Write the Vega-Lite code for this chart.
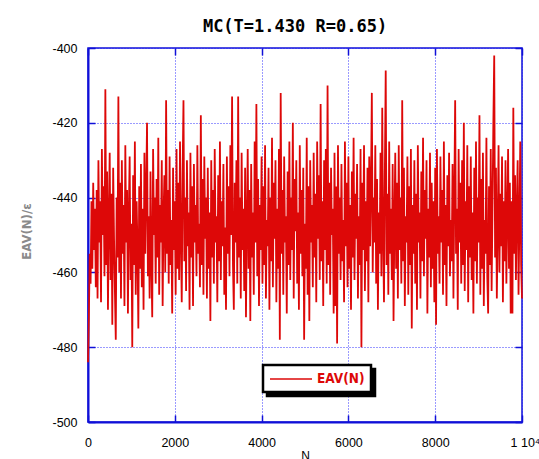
{
"$schema": "https://vega.github.io/schema/vega-lite/v6.json",
"width": 434, "height": 374,
"autosize": {"type": "none"},
"padding": {"left": 88, "top": 48, "right": 17, "bottom": 37},
"background": "white",
"title": {"text": "MC(T=1.430 R=0.65)", "font": "DejaVu Sans Mono", "fontSize": 17, "fontWeight": "bold", "color": "black", "anchor": "middle", "frame": "group", "dx": -10, "offset": 6},
"config": {"view": {"stroke": "#1010d8", "strokeWidth": 1.5}, "legend": {"strokeWidth": 2.5}},
"data": {"values": [
{"n":0,"e":-484},{"n":20,"e":-472},{"n":40,"e":-455},{"n":60,"e":-463},{"n":80,"e":-441},{"n":100,"e":-459},{"n":120,"e":-436},{"n":140,"e":-454},{"n":160,"e":-443},{"n":180,"e":-464},
{"n":200,"e":-438},{"n":220,"e":-467},{"n":240,"e":-430},{"n":260,"e":-452},{"n":280,"e":-441},{"n":300,"e":-468},{"n":320,"e":-427},{"n":340,"e":-450},{"n":360,"e":-437},{"n":380,"e":-461},
{"n":400,"e":-411},{"n":420,"e":-458},{"n":440,"e":-433},{"n":460,"e":-470},{"n":480,"e":-445},{"n":500,"e":-428},{"n":520,"e":-462},{"n":540,"e":-439},{"n":560,"e":-474},{"n":580,"e":-432},
{"n":600,"e":-451},{"n":620,"e":-465},{"n":640,"e":-478},{"n":660,"e":-440},{"n":680,"e":-456},{"n":700,"e":-413},{"n":720,"e":-460},{"n":740,"e":-436},{"n":760,"e":-467},{"n":780,"e":-430},
{"n":800,"e":-455},{"n":820,"e":-442},{"n":840,"e":-469},{"n":860,"e":-426},{"n":880,"e":-452},{"n":900,"e":-438},{"n":920,"e":-471},{"n":940,"e":-444},{"n":960,"e":-429},{"n":980,"e":-462},
{"n":1000,"e":-447},{"n":1020,"e":-480},{"n":1040,"e":-434},{"n":1060,"e":-458},{"n":1080,"e":-425},{"n":1100,"e":-466},{"n":1120,"e":-441},{"n":1140,"e":-453},{"n":1160,"e":-475},{"n":1180,"e":-437},
{"n":1200,"e":-459},{"n":1220,"e":-431},{"n":1240,"e":-464},{"n":1260,"e":-443},{"n":1280,"e":-470},{"n":1300,"e":-428},{"n":1320,"e":-455},{"n":1340,"e":-439},{"n":1360,"e":-420},{"n":1380,"e":-461},
{"n":1400,"e":-445},{"n":1420,"e":-467},{"n":1440,"e":-433},{"n":1460,"e":-457},{"n":1480,"e":-472},{"n":1500,"e":-427},{"n":1520,"e":-450},{"n":1540,"e":-440},{"n":1560,"e":-463},{"n":1580,"e":-435},
{"n":1600,"e":-456},{"n":1620,"e":-424},{"n":1640,"e":-466},{"n":1660,"e":-442},{"n":1680,"e":-452},{"n":1700,"e":-430},{"n":1720,"e":-469},{"n":1740,"e":-445},{"n":1760,"e":-434},{"n":1780,"e":-460},
{"n":1800,"e":-414},{"n":1820,"e":-455},{"n":1840,"e":-438},{"n":1860,"e":-463},{"n":1880,"e":-429},{"n":1900,"e":-458},{"n":1920,"e":-446},{"n":1940,"e":-471},{"n":1960,"e":-432},{"n":1980,"e":-454},
{"n":2000,"e":-441},{"n":2020,"e":-466},{"n":2040,"e":-427},{"n":2060,"e":-459},{"n":2080,"e":-436},{"n":2100,"e":-462},{"n":2120,"e":-425},{"n":2140,"e":-450},{"n":2160,"e":-468},{"n":2180,"e":-433},
{"n":2200,"e":-414},{"n":2220,"e":-457},{"n":2240,"e":-440},{"n":2260,"e":-465},{"n":2280,"e":-430},{"n":2300,"e":-453},{"n":2320,"e":-444},{"n":2340,"e":-470},{"n":2360,"e":-428},{"n":2380,"e":-456},
{"n":2400,"e":-437},{"n":2420,"e":-469},{"n":2440,"e":-431},{"n":2460,"e":-452},{"n":2480,"e":-442},{"n":2500,"e":-461},{"n":2520,"e":-426},{"n":2540,"e":-455},{"n":2560,"e":-447},{"n":2580,"e":-464},
{"n":2600,"e":-418},{"n":2620,"e":-458},{"n":2640,"e":-435},{"n":2660,"e":-466},{"n":2680,"e":-429},{"n":2700,"e":-451},{"n":2720,"e":-440},{"n":2740,"e":-467},{"n":2760,"e":-432},{"n":2780,"e":-459},
{"n":2800,"e":-444},{"n":2820,"e":-473},{"n":2840,"e":-430},{"n":2860,"e":-456},{"n":2880,"e":-438},{"n":2900,"e":-463},{"n":2920,"e":-427},{"n":2940,"e":-452},{"n":2960,"e":-445},{"n":2980,"e":-468},
{"n":3000,"e":-434},{"n":3020,"e":-457},{"n":3040,"e":-425},{"n":3060,"e":-462},{"n":3080,"e":-441},{"n":3100,"e":-453},{"n":3120,"e":-431},{"n":3140,"e":-466},{"n":3160,"e":-448},{"n":3180,"e":-470},
{"n":3200,"e":-429},{"n":3220,"e":-455},{"n":3240,"e":-437},{"n":3260,"e":-461},{"n":3280,"e":-426},{"n":3300,"e":-450},{"n":3320,"e":-413},{"n":3340,"e":-458},{"n":3360,"e":-470},{"n":3380,"e":-436},
{"n":3400,"e":-452},{"n":3420,"e":-430},{"n":3440,"e":-463},{"n":3460,"e":-413},{"n":3480,"e":-456},{"n":3500,"e":-440},{"n":3520,"e":-467},{"n":3540,"e":-428},{"n":3560,"e":-454},{"n":3580,"e":-443},
{"n":3600,"e":-465},{"n":3620,"e":-432},{"n":3640,"e":-472},{"n":3660,"e":-447},{"n":3680,"e":-427},{"n":3700,"e":-459},{"n":3720,"e":-438},{"n":3740,"e":-473},{"n":3760,"e":-431},{"n":3780,"e":-456},
{"n":3800,"e":-444},{"n":3820,"e":-466},{"n":3840,"e":-425},{"n":3860,"e":-452},{"n":3880,"e":-415},{"n":3900,"e":-461},{"n":3920,"e":-435},{"n":3940,"e":-469},{"n":3960,"e":-442},{"n":3980,"e":-454},
{"n":4000,"e":-429},{"n":4020,"e":-463},{"n":4040,"e":-437},{"n":4060,"e":-458},{"n":4080,"e":-426},{"n":4100,"e":-467},{"n":4120,"e":-446},{"n":4140,"e":-453},{"n":4160,"e":-432},{"n":4180,"e":-470},
{"n":4200,"e":-440},{"n":4220,"e":-457},{"n":4240,"e":-424},{"n":4260,"e":-464},{"n":4280,"e":-436},{"n":4300,"e":-451},{"n":4320,"e":-430},{"n":4340,"e":-468},{"n":4360,"e":-443},{"n":4380,"e":-459},
{"n":4400,"e":-427},{"n":4420,"e":-478},{"n":4440,"e":-412},{"n":4460,"e":-455},{"n":4480,"e":-438},{"n":4500,"e":-466},{"n":4520,"e":-429},{"n":4540,"e":-452},{"n":4560,"e":-445},{"n":4580,"e":-471},
{"n":4600,"e":-433},{"n":4620,"e":-458},{"n":4640,"e":-425},{"n":4660,"e":-462},{"n":4680,"e":-440},{"n":4700,"e":-454},{"n":4720,"e":-420},{"n":4740,"e":-467},{"n":4760,"e":-435},{"n":4780,"e":-449},
{"n":4800,"e":-430},{"n":4820,"e":-463},{"n":4840,"e":-444},{"n":4860,"e":-470},{"n":4880,"e":-426},{"n":4900,"e":-455},{"n":4920,"e":-438},{"n":4940,"e":-461},{"n":4960,"e":-432},{"n":4980,"e":-478},
{"n":5000,"e":-447},{"n":5020,"e":-459},{"n":5040,"e":-424},{"n":5060,"e":-466},{"n":5080,"e":-437},{"n":5100,"e":-473},{"n":5120,"e":-430},{"n":5140,"e":-452},{"n":5160,"e":-442},{"n":5180,"e":-464},
{"n":5200,"e":-428},{"n":5220,"e":-456},{"n":5240,"e":-439},{"n":5260,"e":-468},{"n":5280,"e":-425},{"n":5300,"e":-451},{"n":5320,"e":-434},{"n":5340,"e":-462},{"n":5360,"e":-415},{"n":5380,"e":-457},
{"n":5400,"e":-441},{"n":5420,"e":-469},{"n":5440,"e":-430},{"n":5460,"e":-454},{"n":5480,"e":-427},{"n":5500,"e":-463},{"n":5520,"e":-410},{"n":5540,"e":-458},{"n":5560,"e":-436},{"n":5580,"e":-466},
{"n":5600,"e":-432},{"n":5620,"e":-450},{"n":5640,"e":-443},{"n":5660,"e":-471},{"n":5680,"e":-428},{"n":5700,"e":-469},{"n":5720,"e":-437},{"n":5740,"e":-479},{"n":5760,"e":-426},{"n":5780,"e":-455},
{"n":5800,"e":-440},{"n":5820,"e":-462},{"n":5840,"e":-431},{"n":5860,"e":-457},{"n":5880,"e":-446},{"n":5900,"e":-468},{"n":5920,"e":-425},{"n":5940,"e":-453},{"n":5960,"e":-436},{"n":5980,"e":-464},
{"n":6000,"e":-429},{"n":6020,"e":-459},{"n":6040,"e":-442},{"n":6060,"e":-470},{"n":6080,"e":-433},{"n":6100,"e":-456},{"n":6120,"e":-424},{"n":6140,"e":-462},{"n":6160,"e":-439},{"n":6180,"e":-451},
{"n":6200,"e":-431},{"n":6220,"e":-467},{"n":6240,"e":-445},{"n":6260,"e":-458},{"n":6280,"e":-427},{"n":6300,"e":-480},{"n":6320,"e":-436},{"n":6340,"e":-454},{"n":6360,"e":-426},{"n":6380,"e":-465},
{"n":6400,"e":-441},{"n":6420,"e":-457},{"n":6440,"e":-432},{"n":6460,"e":-468},{"n":6480,"e":-429},{"n":6500,"e":-453},{"n":6520,"e":-437},{"n":6540,"e":-412},{"n":6560,"e":-460},{"n":6580,"e":-440},
{"n":6600,"e":-452},{"n":6620,"e":-426},{"n":6640,"e":-463},{"n":6660,"e":-435},{"n":6680,"e":-470},{"n":6700,"e":-444},{"n":6720,"e":-455},{"n":6740,"e":-428},{"n":6760,"e":-461},{"n":6780,"e":-416},
{"n":6800,"e":-450},{"n":6820,"e":-468},{"n":6840,"e":-433},{"n":6860,"e":-406},{"n":6880,"e":-458},{"n":6900,"e":-439},{"n":6920,"e":-466},{"n":6940,"e":-425},{"n":6960,"e":-455},{"n":6980,"e":-443},
{"n":7000,"e":-462},{"n":7020,"e":-431},{"n":7040,"e":-473},{"n":7060,"e":-447},{"n":7080,"e":-428},{"n":7100,"e":-459},{"n":7120,"e":-436},{"n":7140,"e":-467},{"n":7160,"e":-426},{"n":7180,"e":-454},
{"n":7200,"e":-440},{"n":7220,"e":-463},{"n":7240,"e":-414},{"n":7260,"e":-457},{"n":7280,"e":-432},{"n":7300,"e":-469},{"n":7320,"e":-445},{"n":7340,"e":-452},{"n":7360,"e":-429},{"n":7380,"e":-466},
{"n":7400,"e":-437},{"n":7420,"e":-458},{"n":7440,"e":-427},{"n":7460,"e":-475},{"n":7480,"e":-442},{"n":7500,"e":-455},{"n":7520,"e":-430},{"n":7540,"e":-463},{"n":7560,"e":-439},{"n":7580,"e":-470},
{"n":7600,"e":-426},{"n":7620,"e":-452},{"n":7640,"e":-444},{"n":7660,"e":-467},{"n":7680,"e":-433},{"n":7700,"e":-457},{"n":7720,"e":-424},{"n":7740,"e":-461},{"n":7760,"e":-438},{"n":7780,"e":-451},
{"n":7800,"e":-430},{"n":7820,"e":-471},{"n":7840,"e":-443},{"n":7860,"e":-456},{"n":7880,"e":-428},{"n":7900,"e":-464},{"n":7920,"e":-436},{"n":7940,"e":-459},{"n":7960,"e":-441},{"n":7980,"e":-468},
{"n":8000,"e":-432},{"n":8020,"e":-474},{"n":8040,"e":-427},{"n":8060,"e":-455},{"n":8080,"e":-445},{"n":8100,"e":-463},{"n":8120,"e":-429},{"n":8140,"e":-452},{"n":8160,"e":-438},{"n":8180,"e":-466},
{"n":8200,"e":-425},{"n":8220,"e":-458},{"n":8240,"e":-442},{"n":8260,"e":-469},{"n":8280,"e":-434},{"n":8300,"e":-453},{"n":8320,"e":-428},{"n":8340,"e":-461},{"n":8360,"e":-446},{"n":8380,"e":-457},
{"n":8400,"e":-431},{"n":8420,"e":-467},{"n":8440,"e":-439},{"n":8460,"e":-414},{"n":8480,"e":-455},{"n":8500,"e":-443},{"n":8520,"e":-470},{"n":8540,"e":-427},{"n":8560,"e":-452},{"n":8580,"e":-436},
{"n":8600,"e":-463},{"n":8620,"e":-430},{"n":8640,"e":-458},{"n":8660,"e":-420},{"n":8680,"e":-465},{"n":8700,"e":-441},{"n":8720,"e":-454},{"n":8740,"e":-426},{"n":8760,"e":-468},{"n":8780,"e":-437},
{"n":8800,"e":-456},{"n":8820,"e":-429},{"n":8840,"e":-462},{"n":8860,"e":-444},{"n":8880,"e":-471},{"n":8900,"e":-432},{"n":8920,"e":-457},{"n":8940,"e":-425},{"n":8960,"e":-463},{"n":8980,"e":-440},
{"n":9000,"e":-452},{"n":9020,"e":-418},{"n":9040,"e":-466},{"n":9060,"e":-435},{"n":9080,"e":-459},{"n":9100,"e":-428},{"n":9120,"e":-469},{"n":9140,"e":-446},{"n":9160,"e":-455},{"n":9180,"e":-424},
{"n":9200,"e":-461},{"n":9220,"e":-471},{"n":9240,"e":-437},{"n":9260,"e":-458},{"n":9280,"e":-427},{"n":9300,"e":-465},{"n":9320,"e":-443},{"n":9340,"e":-420},{"n":9360,"e":-402},{"n":9380,"e":-456},
{"n":9400,"e":-432},{"n":9420,"e":-467},{"n":9440,"e":-448},{"n":9460,"e":-426},{"n":9480,"e":-460},{"n":9500,"e":-439},{"n":9520,"e":-453},{"n":9540,"e":-429},{"n":9560,"e":-468},{"n":9580,"e":-441},
{"n":9600,"e":-457},{"n":9620,"e":-430},{"n":9640,"e":-463},{"n":9660,"e":-445},{"n":9680,"e":-427},{"n":9700,"e":-459},{"n":9720,"e":-436},{"n":9740,"e":-471},{"n":9760,"e":-441},{"n":9780,"e":-471},
{"n":9800,"e":-416},{"n":9820,"e":-455},{"n":9840,"e":-434},{"n":9860,"e":-462},{"n":9880,"e":-443},{"n":9900,"e":-430},{"n":9920,"e":-466},{"n":9940,"e":-447},{"n":9960,"e":-425},{"n":9980,"e":-458},
{"n":10000,"e":-467}
]},
"resolve": {"axis": {"x": "independent", "y": "independent"}},
"layer": [
{
"mark": {"type": "line", "strokeWidth": 1.8, "interpolate": "linear"},
"encoding": {
  "x": {"field": "n", "type": "quantitative",
    "scale": {"domain": [0, 10000], "nice": false},
    "axis": {"values": [0, 2000, 4000, 6000, 8000, 10000],
      "labelExpr": "datum.value == 10000 ? '1 10⁴' : '' + datum.value",
      "labelAlign": {"condition": {"test": "datum.value == 10000", "value": "left"}, "value": "center"},
      "labelOffset": {"condition": {"test": "datum.value == 10000", "value": -12}, "value": 0},
      "labelFlush": false, "labelFont": "Liberation Sans", "labelFontSize": 12.5, "labelColor": "black",
      "labelPadding": 21, "labelBaseline": "top",
      "tickSize": -7, "tickColor": "#1010d8", "tickWidth": 1.5,
      "domainColor": "#1010d8", "domainWidth": 2,
      "grid": true, "gridColor": "#2020ff", "gridDash": [1, 2], "gridWidth": 1, "gridOpacity": 0.9,
      "title": "N", "titleFont": "Liberation Sans", "titleFontSize": 12, "titleFontWeight": "normal", "titleColor": "black",
      "titleY": 28, "titleBaseline": "top"}},
  "y": {"field": "e", "type": "quantitative",
    "scale": {"domain": [-500, -400], "nice": false},
    "axis": {"values": [-500, -480, -460, -440, -420, -400],
      "labelExpr": "'' + datum.value",
      "labelFont": "Liberation Sans", "labelFontSize": 12.5, "labelColor": "black",
      "labelPadding": 18,
      "tickSize": -7, "tickColor": "#1010d8", "tickWidth": 1.5,
      "domainColor": "#1010d8", "domainWidth": 2,
      "grid": true, "gridColor": "#2020ff", "gridDash": [1, 2], "gridWidth": 1, "gridOpacity": 0.9,
      "title": "EAV(N)/ε", "titleFont": "DejaVu Sans Condensed", "titleFontSize": 13, "titleFontWeight": "bold", "titleColor": "#8a8a8a",
      "titleAngle": -90, "titleX": -62, "titleY": 183, "titleAlign": "center", "titleBaseline": "middle"}},
  "color": {"datum": "EAV(N)", "type": "nominal",
    "scale": {"range": ["#dd0808"]},
    "legend": {"title": null, "orient": "none", "legendX": 175, "legendY": 317, "zindex": 2,
      "symbolType": "M-3,0H3", "symbolSize": 196, "symbolStrokeWidth": 1.5, "symbolOffset": 14,
      "labelFont": "DejaVu Sans Condensed", "labelFontSize": 13.5, "labelFontWeight": "bold", "labelColor": "#dd0808",
      "labelOffset": 18, "padding": 6, "strokeColor": "black", "fillColor": "white", "cornerRadius": 0}},
  "strokeDash": {"datum": "shadow", "type": "nominal",
    "scale": {"range": [[1, 0]]},
    "legend": {"title": null, "orient": "none", "legendX": 179, "legendY": 321, "zindex": 1,
      "labelExpr": "'EAV(N)'",
      "symbolType": "M-3,0H3", "symbolSize": 196, "symbolStrokeWidth": 1.5, "symbolOffset": 14, "symbolStrokeColor": "black",
      "labelFont": "DejaVu Sans Condensed", "labelFontSize": 13.5, "labelFontWeight": "bold", "labelColor": "black",
      "labelOffset": 18, "padding": 6, "strokeColor": "black", "fillColor": "black", "cornerRadius": 0}}
}
},
{
"mark": {"type": "line", "opacity": 0},
"encoding": {
  "x": {"field": "n", "type": "quantitative",
    "axis": {"orient": "top", "values": [0, 2000, 4000, 6000, 8000, 10000], "labels": false, "title": null, "domain": false, "grid": false,
      "tickSize": -7, "tickColor": "#1010d8", "tickWidth": 1.5}},
  "y": {"field": "e", "type": "quantitative",
    "axis": {"orient": "right", "values": [-500, -480, -460, -440, -420, -400], "labels": false, "title": null, "domain": false, "grid": false,
      "tickSize": -7, "tickColor": "#1010d8", "tickWidth": 1.5}}
}
}
]
}
